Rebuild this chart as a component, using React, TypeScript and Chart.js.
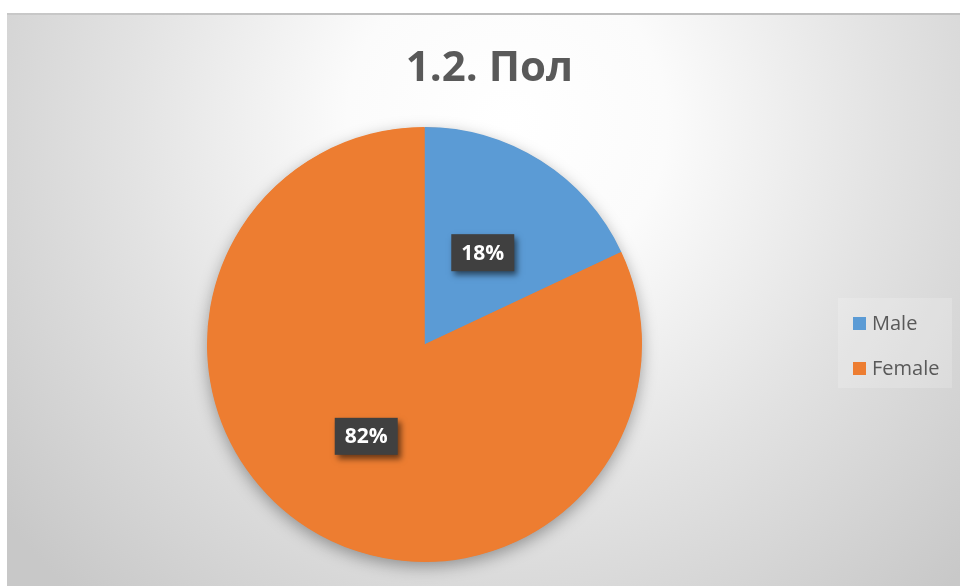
import React, { useEffect, useRef } from "react";
import { Chart, registerables } from "chart.js";

Chart.register(...registerables);

const TITLE = "1.2. Пол";
const CATEGORIES = ["Male", "Female"];
const VALUES = [18, 82];
const COLORS = ["#5B9BD5", "#ED7D31"];

const W = 953;
const H = 573;

const bgPlugin = {
  id: "bgPlugin",
  beforeDraw(chart: any) {
    const { ctx } = chart;
    ctx.save();
    const g = ctx.createRadialGradient(500, 110, 0, 500, 110, 640);
    g.addColorStop(0, "#ffffff");
    g.addColorStop(0.25, "#fbfbfb");
    g.addColorStop(0.6, "#e2e2e2");
    g.addColorStop(1, "#c8c8c8");
    ctx.fillStyle = g;
    ctx.fillRect(0, 0, W, H);
    const lg = ctx.createLinearGradient(0, 0, W, 0);
    lg.addColorStop(0, "#c8c8c8");
    lg.addColorStop(0.5, "#bdbdbd");
    lg.addColorStop(1, "#c0c0c0");
    ctx.fillStyle = lg;
    ctx.fillRect(0, 0, W, 2);
    // title
    ctx.fillStyle = "#595959";
    ctx.font = "bold 42px 'Open Sans'";
    ctx.textAlign = "center";
    ctx.textBaseline = "alphabetic";
    ctx.fillText(TITLE, 482.5, 68);
    // legend
    ctx.fillStyle = "rgba(255,255,255,0.18)";
    ctx.fillRect(831, 285, 114, 90);
    ctx.font = "20px 'Open Sans'";
    ctx.textAlign = "left";
    ctx.textBaseline = "middle";
    const ys = [310, 355];
    CATEGORIES.forEach((c, i) => {
      ctx.fillStyle = COLORS[i];
      ctx.fillRect(846, ys[i] - 6, 13, 13);
      ctx.fillStyle = "#595959";
      ctx.fillText(c, 865, ys[i] + 1);
    });
    ctx.restore();
  },
  beforeDatasetsDraw(chart: any) {
    const meta = chart.getDatasetMeta(0);
    const a = meta.data[0];
    if (!a) return;
    const { ctx } = chart;
    ctx.save();
    ctx.shadowColor = "rgba(0,0,0,0.35)";
    ctx.shadowBlur = 16;
    ctx.shadowOffsetX = 0;
    ctx.shadowOffsetY = 5;
    ctx.fillStyle = COLORS[1];
    ctx.beginPath();
    ctx.arc(a.x, a.y, a.outerRadius - 0.5, 0, Math.PI * 2);
    ctx.fill();
    ctx.restore();
  },
  afterDatasetsDraw(chart: any) {
    const meta = chart.getDatasetMeta(0);
    const { ctx } = chart;
    const total = VALUES.reduce((s, v) => s + v, 0);
    meta.data.forEach((arc: any, i: number) => {
      const p = arc.tooltipPosition();
      const label = Math.round((VALUES[i] / total) * 100) + "%";
      const bw = 63;
      const bh = 37;
      ctx.save();
      ctx.shadowColor = "rgba(0,0,0,0.55)";
      ctx.shadowBlur = 6;
      ctx.shadowOffsetX = 3;
      ctx.shadowOffsetY = 4;
      ctx.fillStyle = "#404040";
      ctx.fillRect(p.x - bw / 2, p.y - bh / 2, bw, bh);
      ctx.restore();
      ctx.save();
      ctx.fillStyle = "#ffffff";
      ctx.font = "bold 21px 'Open Sans'";
      ctx.textAlign = "center";
      ctx.textBaseline = "middle";
      ctx.fillText(label, p.x, p.y + 1);
      ctx.restore();
    });
  },
};

export default function App() {
  const ref = useRef<HTMLCanvasElement | null>(null);
  useEffect(() => {
    if (!ref.current) return;
    const chart = new Chart(ref.current, {
      type: "pie",
      data: {
        labels: CATEGORIES,
        datasets: [
          {
            data: VALUES,
            backgroundColor: COLORS,
            borderWidth: 0,
          },
        ],
      },
      options: {
        animation: false,
        responsive: false,
        maintainAspectRatio: false,
        layout: { padding: { top: 114, bottom: 24, left: 0, right: 118 } },
        plugins: {
          legend: { display: false },
          title: { display: false },
          tooltip: { enabled: false },
        },
      },
      plugins: [bgPlugin],
    });
    return () => chart.destroy();
  }, []);
  return (
    <div style={{ position: "absolute", left: 7, top: 13, width: W, height: H }}>
      <canvas ref={ref} width={W} height={H} style={{ display: "block" }} />
    </div>
  );
}
